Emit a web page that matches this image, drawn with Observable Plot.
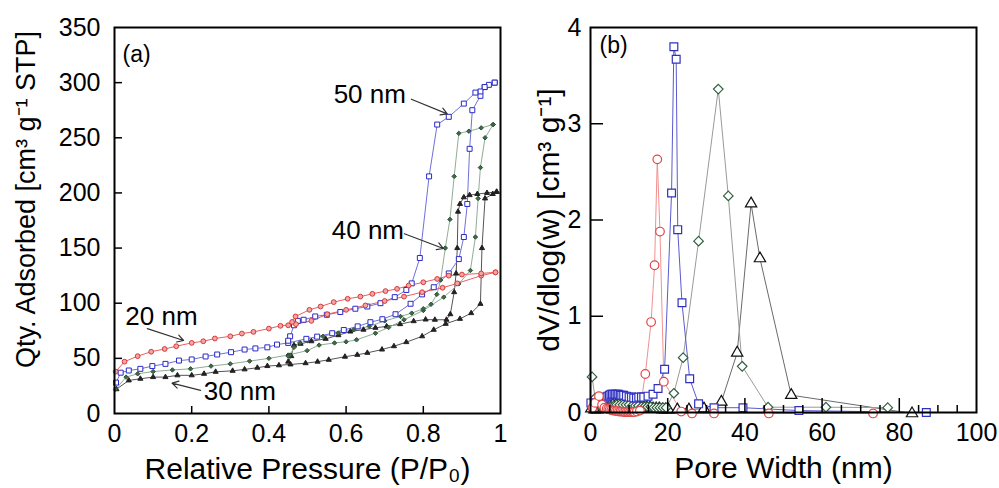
<!DOCTYPE html>
<html><head><meta charset="utf-8">
<script src="https://cdn.jsdelivr.net/npm/d3@7"></script>
<script src="https://cdn.jsdelivr.net/npm/@observablehq/plot@0.6"></script>
<style>
html,body{margin:0;padding:0;background:#fff;}
#wrap{position:relative;width:999px;height:488px;overflow:hidden;background:#fff;}
#a{position:absolute;left:0;top:0;}
#b{position:absolute;left:540px;top:0;}
</style></head><body><div id="wrap"><div id="a"></div><div id="b"></div></div>
<script>
// ---------- Panel (a): N2 isotherms ----------
const pTicks = [0, 0.2, 0.4, 0.6, 0.8, 1];
const vTicks = [0, 50, 100, 150, 200, 250, 300, 350];

// 20 nm (red circles)
const ads20P = [0.003,0.026,0.06,0.095,0.13,0.16,0.2,0.23,0.26,0.3,0.33,0.36,0.4,0.43,0.47,0.51,0.551,0.6,0.65,0.7,0.75,0.797,0.85,0.888,0.95,0.987];
const ads20V = [38,47,52,56,58.5,61,64,65.5,68,70,72.5,74,77,79.5,81,84,90,94,98,102,106,110,114,118,125,128];
const des20P = [0.987,0.95,0.9,0.866,0.836,0.8,0.762,0.732,0.702,0.668,0.637,0.604,0.568,0.534,0.505,0.469,0.46,0.45];
const des20V = [128,127,126,125,122,119,116,113,111,108.5,106,104,101,97,94,88,83,80];

// 50 nm (blue squares)
const ads50P = [0.004,0.016,0.037,0.067,0.098,0.132,0.167,0.2,0.236,0.266,0.302,0.337,0.365,0.396,0.421,0.45,0.497,0.525,0.564,0.594,0.63,0.663,0.694,0.728,0.767,0.797,0.827,0.866,0.892,0.905,0.914,0.92,0.927,0.948,0.959,0.985];
const ads50V = [28,37,39,40.5,43,45,48,49,51.7,53.5,55.6,58,59,60,62.5,64,67.7,69.7,72.8,75.7,79,82.8,85.5,90,99.5,108,114.5,127,140,160,190,240,275,288,296,300];
const des50P = [0.985,0.97,0.959,0.948,0.935,0.905,0.866,0.836,0.815,0.791,0.77,0.756,0.726,0.689,0.655,0.624,0.585,0.55,0.52,0.49,0.475,0.465,0.455,0.45];
const des50V = [300,298,296,292,291,281,269,262,215,141,118,112,105.5,100,97,95,92,89.5,88,85,84,80,70,66];

// 30 nm (black triangles)
const ads30P = [0.005,0.037,0.067,0.1,0.132,0.163,0.2,0.232,0.262,0.306,0.337,0.37,0.396,0.426,0.456,0.495,0.526,0.555,0.597,0.629,0.655,0.693,0.724,0.756,0.797,0.827,0.858,0.895,0.924,0.948,0.952,0.96,0.98,0.99];
const ads30V = [22,30,31.5,33,33,34.6,34.6,36,37.8,38.7,40,41.5,43,43.7,44.5,45.6,47,48.7,51.5,53.2,55,58,61,64.7,70,75.9,81.3,85.8,91,99.4,150,195,199,201];
const des30P = [0.99,0.965,0.94,0.92,0.905,0.895,0.89,0.888,0.885,0.88,0.87,0.86,0.83,0.806,0.775,0.74,0.705,0.676,0.645,0.611,0.58,0.547,0.51,0.482,0.465,0.458,0.45];
const des30V = [201,200,199,198,196,190,183,150,127,110,90,85,85,85.2,83.7,81,79,77.7,76,74.3,71,67.7,65.5,63.2,62,52,47];

// 40 nm (green diamonds)
const ads40P = [0.003,0.03,0.06,0.1,0.15,0.197,0.25,0.3,0.35,0.4,0.45,0.499,0.53,0.57,0.6,0.627,0.676,0.71,0.75,0.8,0.853,0.892,0.922,0.935,0.942,0.948,0.96,0.981];
const ads40V = [22,33,36,38,39.5,40.5,43,45,47.5,50,53,57,62,64,65,66.8,72.8,78,85,93.4,105.5,117.6,129.7,160,195,223,250,262];
const des40P = [0.981,0.95,0.918,0.892,0.88,0.869,0.857,0.845,0.835,0.82,0.8,0.77,0.741,0.7,0.66,0.62,0.58,0.54,0.5,0.48,0.465,0.455,0.45];
const des40V = [262,259,256,254,215,176,150,121,108,99,95,91,88,84,79,76,73,70,66,64,60,53,52];

// annotations (data coordinates)
const annLabel = ["50 nm", "40 nm", "20 nm", "30 nm"];
const annTextP = [0.755, 0.75, 0.028, 0.231];
const annTextV = [289, 166, 88, 20];
const annAnchor = ["end", "end", "start", "start"];
const annFromP = [0.769, 0.751, 0.085, 0.223];
const annFromV = [285, 163, 77, 21];
const annToP = [0.862, 0.852, 0.179, 0.149];
const annToV = [271.7, 149.6, 66.2, 27.5];

// ---------- Panel (b): pore size distributions ----------
const wTicks = [0, 20, 40, 60, 80, 100];
const wMinor = [5,10,15,25,30,35,45,50,55,65,70,75,85,90,95];
const dTicks = [0, 1, 2, 3, 4];

const psd20W = [0.5,1.2,2.2,3,3.6,4.2,4.6,5,5.4,5.8,6.2,6.6,7,7.4,7.8,8.2,8.6,9,9.4,9.8,10.2,10.6,11,11.4,12,12.8,14.2,15.7,16.6,17.3,18,19,23.5,26.3,32,46.2,73.2];
const psd20V = [0.05,0.1,0.17,0.08,0.05,0.04,0.035,0.03,0.025,0.02,0.02,0.015,0.015,0.01,0.01,0.01,0.005,0.005,0.005,0.005,0.005,0.005,0.005,0.005,0.01,0.02,0.4,0.94,1.53,2.63,1.88,0.32,0.01,-0.01,-0.01,-0.01,-0.01];

const psd50W = [0.1,1.3,2.2,2.9,3.3,3.7,4.1,4.5,4.9,5.3,5.7,6.1,6.5,6.9,7.3,7.7,8.1,8.6,9.3,10,10.6,11.2,11.9,12.5,13.2,13.8,14.9,16.2,17.5,19.2,21,21.6,22.2,22.6,23.7,25.7,28,32,39.5,54,87];
const psd50V = [0.1,0.1,0.11,0.13,0.14,0.15,0.16,0.17,0.18,0.19,0.19,0.19,0.19,0.19,0.19,0.18,0.18,0.18,0.17,0.16,0.16,0.15,0.15,0.16,0.16,0.16,0.17,0.19,0.25,0.45,2.28,3.8,3.67,1.9,1.14,0.35,0.09,0.05,0.05,0.02,0.0];

const psd40W = [0.4,1.2,2,2.8,3.6,4.4,5.2,6,6.8,7.6,8.4,9.2,10,10.8,11.6,12.4,13.2,14,14.8,15.6,16.4,17.2,18,18.8,19.6,21.6,24,28,33.1,35.7,39.3,46,61,77];
const psd40V = [0.37,0.15,0.08,0.06,0.05,0.05,0.06,0.07,0.08,0.08,0.08,0.08,0.08,0.07,0.07,0.07,0.06,0.06,0.06,0.06,0.05,0.05,0.05,0.05,0.05,0.2,0.57,1.78,3.36,2.25,0.48,0.055,0.055,0.05];

const psd30W = [0.2,1,1.8,2.6,3.4,4.2,5,5.8,6.6,7.4,8.2,9,9.8,10.6,11.4,12.2,13,13.8,14.6,15.4,16.2,17,17.8,18.6,19.4,20.2,22.5,25.5,29.4,33.9,38,41.6,43.9,52,83.3];
const psd30V = [0.04,0.03,0.03,0.04,0.05,0.06,0.07,0.08,0.08,0.09,0.09,0.08,0.08,0.07,0.07,0.06,0.06,0.05,0.05,0.05,0.04,0.04,0.04,0.03,0.03,0.03,0.03,0.03,0.04,0.11,0.62,2.17,1.6,0.18,-0.01];

// ---------- helpers ----------
const rows = (X, Y) => X.map((x, i) => ({x, y: Y[i]}));
const FONT = "'Liberation Sans', Arial, Helvetica, sans-serif";
const H = 488, mT = 27;

// ---------- Chart A ----------
const W1 = 540, mL1 = 114, mR1 = 40, mB1 = 75;
const iW1 = W1 - mL1 - mR1, iH1 = H - mT - mB1;
const seriesA = [
  {ads: rows(ads30P, ads30V), des: rows(des30P, des30V), line: "#555", sym: "triangle", r: 1.9, fill: "#222", stroke: "#222"},
  {ads: rows(ads40P, ads40V), des: rows(des40P, des40V), line: "#8fae96", sym: "diamond2", r: 2.0, fill: "#3d6b47", stroke: "#2f4f37"},
  {ads: rows(ads50P, ads50V), des: rows(des50P, des50V), line: "#7070dc", sym: "square", r: 2.8, fill: "white", stroke: "#2a2ac8"},
  {ads: rows(ads20P, ads20V), des: rows(des20P, des20V), line: "#e86060", sym: "circle", r: 2.4, fill: "#f3a5a5", stroke: "#d83838"}
];
const marksA = [];
for (const s of seriesA) {
  marksA.push(Plot.line(s.ads, {x: "x", y: "y", stroke: s.line, strokeWidth: 1}));
  marksA.push(Plot.line(s.des, {x: "x", y: "y", stroke: s.line, strokeWidth: 1}));
}
for (const s of seriesA) {
  for (const d of [s.ads, s.des]) {
    marksA.push(Plot.dot(d, {x: "x", y: "y", symbol: s.sym, r: s.r, fill: s.fill, stroke: s.stroke, strokeWidth: 1}));
  }
}
const ann = annLabel.map((t, i) => ({t, tx: annTextP[i], ty: annTextV[i], a: annAnchor[i], x1: annFromP[i], y1: annFromV[i], x2: annToP[i], y2: annToV[i]}));

const chartA = Plot.plot({
  width: W1, height: H, marginLeft: mL1, marginRight: mR1, marginTop: mT, marginBottom: mB1,
  style: {fontFamily: FONT, fontSize: "25px", background: "white", color: "black", overflow: "visible"},
  x: {domain: [0, 1]}, y: {domain: [0, 350]},
  marks: [
    ...marksA,
    Plot.arrow(ann, {x1: "x1", y1: "y1", x2: "x2", y2: "y2", stroke: "#333", strokeWidth: 1.2, headLength: 9}),
    Plot.text(ann.filter(d => d.a === "end"), {x: "tx", y: "ty", text: "t", textAnchor: "end", fontSize: 26, fill: "black"}),
    Plot.text(ann.filter(d => d.a === "start"), {x: "tx", y: "ty", text: "t", textAnchor: "start", fontSize: 26, fill: "black"}),
    Plot.tickX(pTicks.slice(1, -1), {x: d => d, insetTop: iH1 - 7, stroke: "black", strokeWidth: 1.5}),
    Plot.tickY(vTicks.slice(1, -1), {y: d => d, insetRight: iW1 - 8, stroke: "black", strokeWidth: 1.5}),
    Plot.axisX(pTicks, {tickSize: 0, tickPadding: 11, fontSize: 25, tickFormat: d => String(d), label: null}),
    Plot.axisY(vTicks, {tickSize: 0, tickPadding: 14, fontSize: 25, tickFormat: d => String(d), label: null}),
    Plot.frame({stroke: "black", strokeWidth: 2}),
    Plot.text(["(a)"], {frameAnchor: "top-left", dx: 8, dy: 18, fontSize: 23, textAnchor: "start", lineAnchor: "top", text: d => d}),
    Plot.text(["Relative Pressure (P/P\u2080)"], {frameAnchor: "bottom", dy: 56, fontSize: 30, textAnchor: "middle", lineAnchor: "middle", text: d => d}),
    Plot.text(["Qty. Adsorbed [cm\u00b3 g\u207b\u00b9 STP]"], {frameAnchor: "left", rotate: -90, dx: -88, dy: -21, fontSize: 27, textAnchor: "middle", lineAnchor: "middle", text: d => d})
  ]
});
document.getElementById("a").appendChild(chartA);

// ---------- Chart B ----------
const W2 = 459, mL2 = 50, mR2 = 23, mB2 = 76;
const iW2 = W2 - mL2 - mR2, iH2 = H - mT - mB2;
const seriesB = [
  {d: rows(psd30W, psd30V), line: "#6a6a6a", sym: "triangle", stroke: "#111", r: 4.2},
  {d: rows(psd40W, psd40V), line: "#9a9a9a", sym: "diamond2", stroke: "#2f5f3f", r: 4.3},
  {d: rows(psd50W, psd50V), line: "#5a5ad0", sym: "square", stroke: "#3030c0", r: 4.4},
  {d: rows(psd20W, psd20V), line: "#f09090", sym: "circle", stroke: "#e04848", r: 4.3}
];
const marksB = [];
for (const s of seriesB) marksB.push(Plot.line(s.d, {x: "x", y: "y", stroke: s.line, strokeWidth: 1}));
for (const s of seriesB) marksB.push(Plot.dot(s.d, {x: "x", y: "y", symbol: s.sym, r: s.r, fill: "white", stroke: s.stroke, strokeWidth: 1.2}));

const chartB = Plot.plot({
  width: W2, height: H, marginLeft: mL2, marginRight: mR2, marginTop: mT, marginBottom: mB2,
  style: {fontFamily: FONT, fontSize: "25px", background: "white", color: "black", overflow: "visible"},
  x: {domain: [0, 100]}, y: {domain: [0, 4]},
  marks: [
    ...marksB,
    Plot.tickX(wTicks.slice(1, -1), {x: d => d, insetTop: iH2 - 14, stroke: "black", strokeWidth: 1.5}),
    Plot.tickX(wMinor, {x: d => d, insetTop: iH2 - 7, stroke: "black", strokeWidth: 1.5}),
    Plot.tickY(dTicks.slice(1, -1), {y: d => d, insetRight: iW2 - 13, stroke: "black", strokeWidth: 1.5}),
    Plot.axisX(wTicks, {tickSize: 0, tickPadding: 11, fontSize: 25, tickFormat: d => String(d), label: null}),
    Plot.axisY(dTicks, {tickSize: 0, tickPadding: 9, fontSize: 25, tickFormat: d => String(d), label: null}),
    Plot.frame({stroke: "black", strokeWidth: 2}),
    Plot.text(["(b)"], {frameAnchor: "top-left", dx: 9, dy: 9, fontSize: 23, textAnchor: "start", lineAnchor: "top", text: d => d}),
    Plot.text(["Pore Width (nm)"], {frameAnchor: "bottom", dy: 56, fontSize: 30, textAnchor: "middle", lineAnchor: "middle", text: d => d}),
    Plot.text(["dV/dlog(w) [cm\u00b3 g\u207b\u00b9]"], {frameAnchor: "left", rotate: -90, dx: -41, dy: 0, fontSize: 30, textAnchor: "middle", lineAnchor: "middle", text: d => d})
  ]
});
document.getElementById("b").appendChild(chartB);
</script></body></html>
